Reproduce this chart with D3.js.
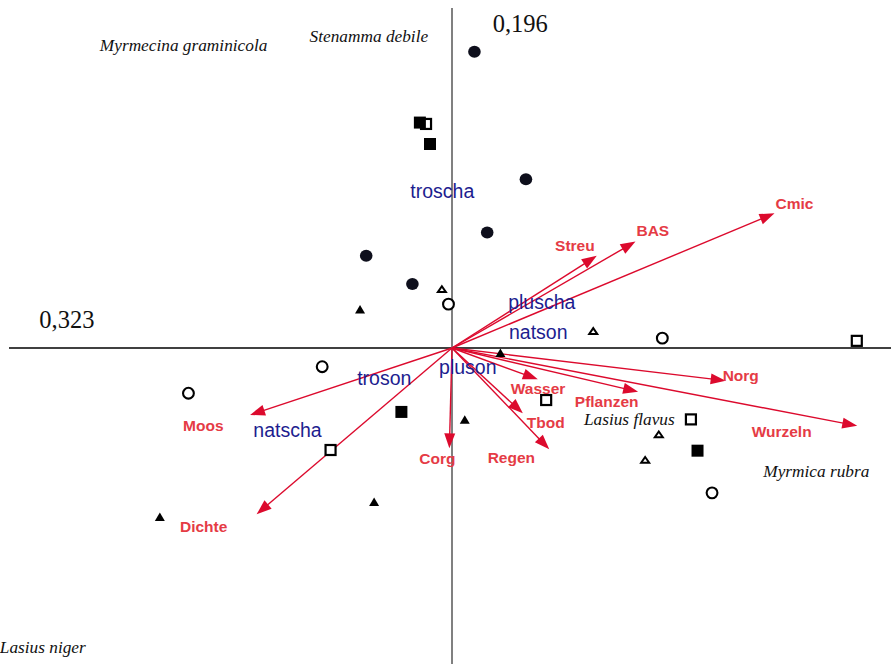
<!DOCTYPE html>
<html>
<head>
<meta charset="utf-8">
<script src="https://cdn.jsdelivr.net/npm/d3@7/dist/d3.min.js"></script>
<style>
  html, body { margin: 0; padding: 0; background: #fff; }
  svg { display: block; }
</style>
</head>
<body>
<svg id="chart" width="891" height="664"></svg>
<script>
// Ordination biplot: sample scores by habitat symbol, environmental vectors,
// nominal variable centroids and species names.

// Eigenvalues of the two plotted axes
const axisEigen = ["0,323", "0,196"];

// Sample scores, grouped by symbol
const filledCircleX = [0.051, 0.168, 0.080, -0.195, -0.090];
const filledCircleY = [0.871, 0.496, 0.340, 0.271, 0.188];

const openSquareX = [-0.059, 0.920, 0.214, 0.543, -0.276];
const openSquareY = [0.659, 0.021, -0.153, -0.210, -0.300];

const filledSquareX = [-0.073, -0.050, -0.115, 0.558];
const filledSquareY = [0.663, 0.600, -0.188, -0.302];

const openCircleX = [-0.008, 0.478, -0.295, -0.599, 0.591];
const openCircleY = [0.129, 0.029, -0.055, -0.133, -0.426];

const filledTriangleX = [-0.209, 0.110, 0.029, -0.177, -0.664];
const filledTriangleY = [0.114, -0.014, -0.210, -0.452, -0.496];

const openTriangleX = [-0.023, 0.321, 0.470, 0.439];
const openTriangleY = [0.173, 0.050, -0.254, -0.329];

// Environmental variables (arrow tips)
const envNames = ["Cmic", "BAS", "Streu", "Norg", "Wurzeln", "Pflanzen",
                  "Wasser", "Tbod", "Regen", "Corg", "Moos", "Dichte"];
const envX = [0.733, 0.417, 0.329, 0.622, 0.921, 0.423,
              0.195, 0.161, 0.221, -0.006, -0.459, -0.444];
const envY = [0.396, 0.313, 0.271, -0.096, -0.229, -0.129,
              -0.092, -0.192, -0.298, -0.295, -0.197, -0.489];

// Nominal variables (centroids)
const nominalNames = ["troscha", "pluscha", "natson", "pluson", "troson", "natscha"];
const nominalX = [-0.022, 0.204, 0.196, 0.036, -0.154, -0.374];
const nominalY = [0.458, 0.131, 0.045, -0.060, -0.091, -0.245];

// Species
const speciesNames = ["Myrmecina graminicola", "Stenamma debile", "Lasius flavus",
                      "Myrmica rubra", "Lasius niger"];
const speciesX = [-0.610, -0.189, 0.403, 0.828, -0.930];
const speciesY = [0.889, 0.916, -0.212, -0.364, -0.883];

// ---- layout ----
const W = 891, H = 664;
const svg = d3.select("#chart");

const x = d3.scaleLinear().domain([-1, 1]).range([12, 892]);
const y = d3.scaleLinear().domain([-1, 1]).range([688, 8]);
const x0 = x(0), y0 = y(0);

// label placement relative to each arrow tip (left edge, baseline)
const envLabelOffset = [
  [1, -4], [1, -5.5], [-41.7, -4.5], [-3, 0.3], [-105.6, 11.6], [-63.3, 15.6],
  [-27, 15], [4, 15], [-61.6, 14], [-30, 16], [-67, 16], [-76.7, 17.7]
];

const arrowColor = "#dc0a2d";
const envLabelColor = "#e53b45";
const nominalColor = "#1d1d8f";

// ---- axes ----
svg.append("line")
  .attr("x1", 9).attr("x2", W)
  .attr("y1", y0).attr("y2", y0)
  .attr("stroke", "#000").attr("stroke-width", 1.3);

svg.append("line")
  .attr("x1", x0).attr("x2", x0)
  .attr("y1", 8).attr("y2", H)
  .attr("stroke", "#808080").attr("stroke-width", 2);

svg.append("text")
  .attr("x", 39.3).attr("y", 328.3)
  .attr("font-family", "'Liberation Serif', 'Times New Roman', serif")
  .attr("font-size", 24.5).attr("fill", "#111")
  .text(axisEigen[0]);

svg.append("text")
  .attr("x", 492.7).attr("y", 31.7)
  .attr("font-family", "'Liberation Serif', 'Times New Roman', serif")
  .attr("font-size", 24.5).attr("fill", "#111")
  .text(axisEigen[1]);

// ---- environmental arrows ----
const env = envNames.map((n, i) => ({ name: n, vx: envX[i], vy: envY[i], off: envLabelOffset[i] }));
const headLen = 15, headHalf = 5.5;

const gEnv = svg.append("g");
env.forEach(d => {
  const tx = x(d.vx), ty = y(d.vy);
  const dx = tx - x0, dy = ty - y0;
  const len = Math.hypot(dx, dy);
  const ux = dx / len, uy = dy / len;
  const nx = -uy, ny = ux;
  const bx = tx - headLen * ux, by = ty - headLen * uy;
  gEnv.append("line")
    .attr("x1", x0).attr("y1", y0)
    .attr("x2", bx + 2 * ux).attr("y2", by + 2 * uy)
    .attr("stroke", arrowColor).attr("stroke-width", 1.4);
  gEnv.append("path")
    .attr("d", `M${tx},${ty}L${bx + headHalf * nx},${by + headHalf * ny}L${bx - headHalf * nx},${by - headHalf * ny}Z`)
    .attr("fill", arrowColor);
});

// ---- sample symbols ----
const gPts = svg.append("g");
const toPts = (xs, ys) => xs.map((v, i) => [x(v), y(ys[i])]);

const triPath = (cx, cy, w, h) =>
  `M${cx},${cy - h / 2}L${cx + w / 2},${cy + h / 2}L${cx - w / 2},${cy + h / 2}Z`;

gPts.selectAll(".osq").data(toPts(openSquareX, openSquareY)).join("rect")
  .attr("x", d => d[0] - 5).attr("y", d => d[1] - 5)
  .attr("width", 10).attr("height", 10)
  .attr("fill", "#fff").attr("stroke", "#000").attr("stroke-width", 2.2);

gPts.selectAll(".fsq").data(toPts(filledSquareX, filledSquareY)).join("rect")
  .attr("x", d => d[0] - 6).attr("y", d => d[1] - 6)
  .attr("width", 12).attr("height", 12)
  .attr("fill", "#000");

gPts.selectAll(".fci").data(toPts(filledCircleX, filledCircleY)).join("ellipse")
  .attr("cx", d => d[0]).attr("cy", d => d[1])
  .attr("rx", 6.3).attr("ry", 6)
  .attr("fill", "#0e0f1c");

gPts.selectAll(".oci").data(toPts(openCircleX, openCircleY)).join("circle")
  .attr("cx", d => d[0]).attr("cy", d => d[1])
  .attr("r", 5.4)
  .attr("fill", "#fff").attr("stroke", "#000").attr("stroke-width", 2.1);

gPts.selectAll(".ftr").data(toPts(filledTriangleX, filledTriangleY)).join("path")
  .attr("d", d => triPath(d[0], d[1], 10, 8.5))
  .attr("fill", "#000");

gPts.selectAll(".otr").data(toPts(openTriangleX, openTriangleY)).join("path")
  .attr("d", d => triPath(d[0], d[1], 8, 5.8))
  .attr("fill", "#fff").attr("stroke", "#000").attr("stroke-width", 2)
  .attr("stroke-linejoin", "miter");

// ---- labels ----
svg.append("g").selectAll("text").data(env).join("text")
  .attr("x", d => x(d.vx) + d.off[0])
  .attr("y", d => y(d.vy) + d.off[1])
  .attr("font-family", "'Liberation Sans', Arial, sans-serif")
  .attr("font-weight", "bold")
  .attr("font-size", 15.5)
  .attr("fill", envLabelColor)
  .text(d => d.name);

svg.append("g").selectAll("text").data(nominalNames).join("text")
  .attr("x", (d, i) => x(nominalX[i]))
  .attr("y", (d, i) => y(nominalY[i]) + 6)
  .attr("text-anchor", "middle")
  .attr("font-family", "'Liberation Sans', Arial, sans-serif")
  .attr("font-size", 19.5)
  .attr("fill", nominalColor)
  .text(d => d);

svg.append("g").selectAll("text").data(speciesNames).join("text")
  .attr("x", (d, i) => x(speciesX[i]))
  .attr("y", (d, i) => y(speciesY[i]) + 5)
  .attr("text-anchor", "middle")
  .attr("font-family", "'Liberation Serif', 'Times New Roman', serif")
  .attr("font-style", "italic")
  .attr("font-size", 17.3)
  .attr("fill", "#111")
  .text(d => d);
</script>
</body>
</html>
